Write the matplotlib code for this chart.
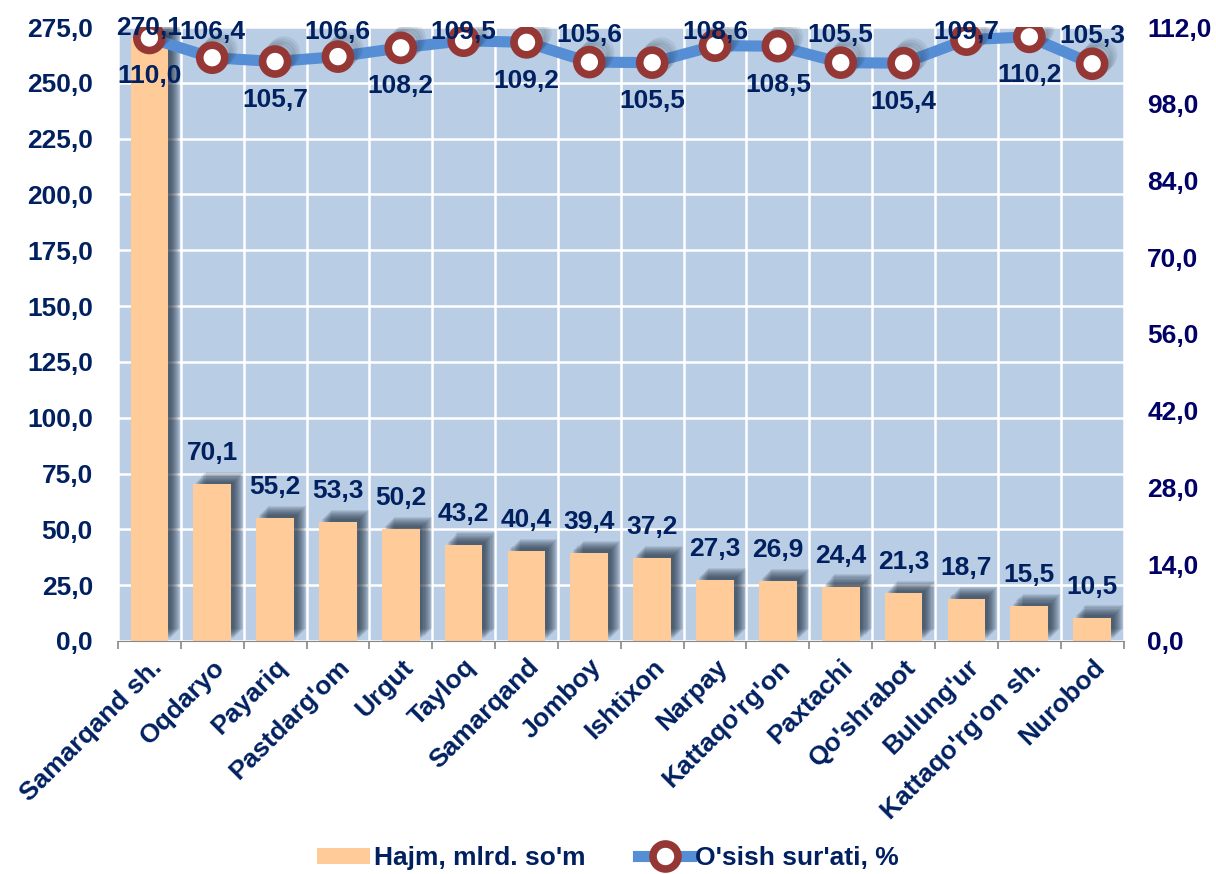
import matplotlib
matplotlib.use("Agg")
import matplotlib.pyplot as plt
import matplotlib.patheffects as pe
from matplotlib.ticker import FuncFormatter, MultipleLocator
from matplotlib.patches import Patch
from matplotlib.lines import Line2D
import numpy as np

districts = ["Samarqand sh.", "Oqdaryo", "Payariq", "Pastdarg'om", "Urgut", "Tayloq",
             "Samarqand", "Jomboy", "Ishtixon", "Narpay", "Kattaqo'rg'on", "Paxtachi",
             "Qo'shrabot", "Bulung'ur", "Kattaqo'rg'on sh.", "Nurobod"]
volume = [270.1, 70.1, 55.2, 53.3, 50.2, 43.2, 40.4, 39.4, 37.2, 27.3, 26.9, 24.4,
          21.3, 18.7, 15.5, 10.5]
growth = [110.0, 106.4, 105.7, 106.6, 108.2, 109.5, 109.2, 105.6, 105.5, 108.6, 108.5,
          105.5, 105.4, 109.7, 110.2, 105.3]

plt.rcParams['font.family'] = ['Liberation Sans', 'DejaVu Sans']
plt.rcParams['font.weight'] = 'bold'

navy = '#002060'
fs = 19
comma = FuncFormatter(lambda v, p: f"{v:.1f}".replace('.', ','))

fig = plt.figure(figsize=(12.16, 8.74), dpi=100)
ax = fig.add_axes([0.097, 0.2666, 0.827, 0.7025])
ax.set_facecolor('#B9CDE5')
x = np.arange(len(districts))

# bars with a soft shadow (several faint offset copies)
shadow = [pe.SimplePatchShadow(offset=(o, o), shadow_rgbFace='#1e2a3c', alpha=0.1)
          for o in np.arange(2.0, 9.5, 0.75)]
bars = ax.bar(x, volume, width=0.6, color='#FFCC99', zorder=2)
for b in bars:
    b.set_path_effects(shadow + [pe.Normal()])

ax.set_xlim(-0.5, len(districts) - 0.5)
ax.set_ylim(0, 275)
ax.yaxis.set_major_locator(MultipleLocator(25))
ax.yaxis.set_major_formatter(comma)
ax.set_xticks(x)
ax.set_xticklabels(districts, rotation=45, ha='right', rotation_mode='anchor',
                   fontsize=fs, color=navy)
ax.set_xticks(np.arange(-0.5, len(districts)), minor=True)
ax.tick_params(axis='x', which='major', length=0, pad=10)
ax.tick_params(axis='x', which='minor', length=6, color='#888888', width=1.2)
ax.tick_params(axis='y', length=0, labelsize=fs, labelcolor=navy, pad=18)
ax.grid(True, axis='y', color='white', lw=1.8)
ax.grid(True, axis='x', which='minor', color='white', lw=1.8)
ax.set_axisbelow(True)
for s in ['top', 'right', 'left']:
    ax.spines[s].set_visible(False)
ax.spines['bottom'].set_color('#888888')

ax2 = ax.twinx()
ax2.set_ylim(0, 112)
ax2.yaxis.set_major_locator(MultipleLocator(14))
ax2.yaxis.set_major_formatter(comma)
ax2.tick_params(axis='y', length=0, labelsize=fs, labelcolor='#000066', pad=17)
for s in ax2.spines.values():
    s.set_visible(False)

line_color = '#558ED5'
marker_style = dict(marker='o', ms=18, mfc='white', mec='#953735', mew=5.5)
ax2.plot(x, growth, color=line_color, lw=8, zorder=3)
mshadow = [pe.SimpleLineShadow(offset=(o, o), shadow_color='#1e2a3c', alpha=0.08)
           for o in (2, 3.5, 5, 6.5)]
ax2.plot(x, growth, ls='none', zorder=4, path_effects=mshadow + [pe.Normal()],
         **marker_style)
for i, (xi, v) in enumerate(zip(x, growth)):
    if i % 2:
        y = min(v + 5.0, 111)
    else:
        y = v - 7.0
    ax2.text(xi, y, f"{v:.1f}".replace('.', ','), ha='center', va='center',
             fontsize=fs, color=navy, zorder=6)

# bar labels drawn on top axes so they sit above the markers
px = 275 / 614.0
for xi, v in zip(x, volume):
    ax2.text(xi, min(v + 19 * px, 269), f"{v:.1f}".replace('.', ','), ha='center',
             va='bottom', fontsize=fs, color=navy, zorder=7, transform=ax.transData)

handles = [Patch(facecolor='#FFCC99'),
           Line2D([], [], color=line_color, lw=8, **marker_style)]
fig.legend(handles, ["Hajm, mlrd. so'm", "O'sish sur'ati, %"], loc='center',
           bbox_to_anchor=(0.5, 0.018), ncol=2, frameon=False, fontsize=fs,
           handlelength=2.0, handleheight=0.6, columnspacing=2.0, handletextpad=0.15,
           labelcolor=navy)

fig.savefig('out.png', dpi=100)
